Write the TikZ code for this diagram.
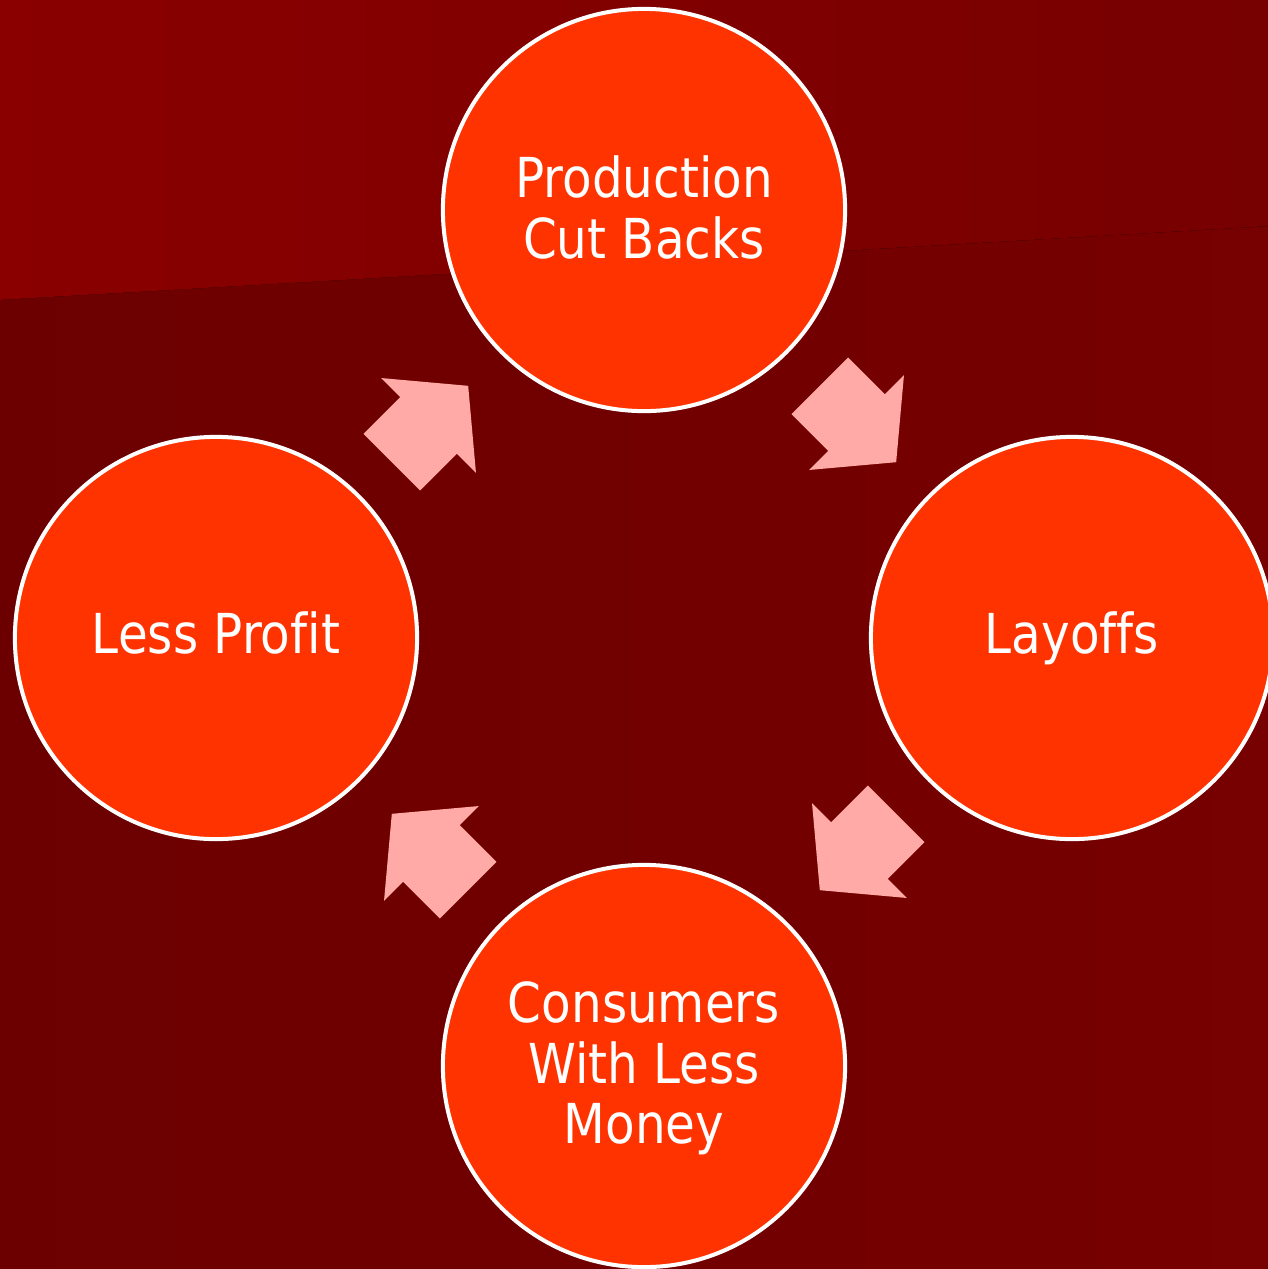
\documentclass[tikz,border=0pt]{standalone}
\usepackage{fontspec}
\setmainfont[FakeStretch=0.88, Ligatures=NoCommon]{DejaVu Sans}
\usetikzlibrary{calc}
\definecolor{bgdarkL}{HTML}{6C0000}
\definecolor{bgdarkR}{HTML}{770000}
\definecolor{bglightL}{HTML}{8A0000}
\definecolor{bglightR}{HTML}{770000}
\definecolor{discfill}{HTML}{FF3300}
\definecolor{arrowfill}{HTML}{FFAAA6}
\tikzset{
  disc/.style={circle, draw=white, line width=1.14pt, fill=discfill,
    minimum size=4.02cm, inner sep=0pt, text=white, align=center,
    font=\fontsize{15.65}{17.2}\selectfont, text depth=1.7pt},
  discone/.style={disc, text depth=2.85pt},
  blockarr/.pic={
    \fill[arrowfill] (-54,-40) -- (-2,-40) -- (-2,-67) -- (54,0) -- (-2,67) -- (-2,40) -- (-54,40) -- cycle;
  }
}
\begin{document}
\begin{tikzpicture}[x=0.01cm, y=-0.01cm]
\useasboundingbox (0,0) rectangle (1268,1269);
\clip (0,0) rectangle (1268,1269);
\fill[left color=bgdarkL, right color=bgdarkR] (-2,-2) rectangle (1270,1271);
\fill[left color=bglightL, right color=bglightR] (-2,-2) -- (1270,-2) -- (1270,226) -- (-2,300) -- cycle;

\node[disc] (top) at (644,210) {Production\\Cut Backs};
\node[discone] (right) at (1072,638) {Layoffs};
\node[disc] (bottom) at (644,1066) {Consumers\\With Less\\Money};
\node[discone] (left) at (216,638) {Less Profit};

\pic[rotate=-45] at ($(top)!0.5!(right)$) {blockarr};
\pic[rotate=-135] at ($(right)!0.5!(bottom)$) {blockarr};
\pic[rotate=135] at ($(bottom)!0.5!(left)$) {blockarr};
\pic[rotate=45] at ($(left)!0.5!(top)$) {blockarr};
\end{tikzpicture}
\end{document}
